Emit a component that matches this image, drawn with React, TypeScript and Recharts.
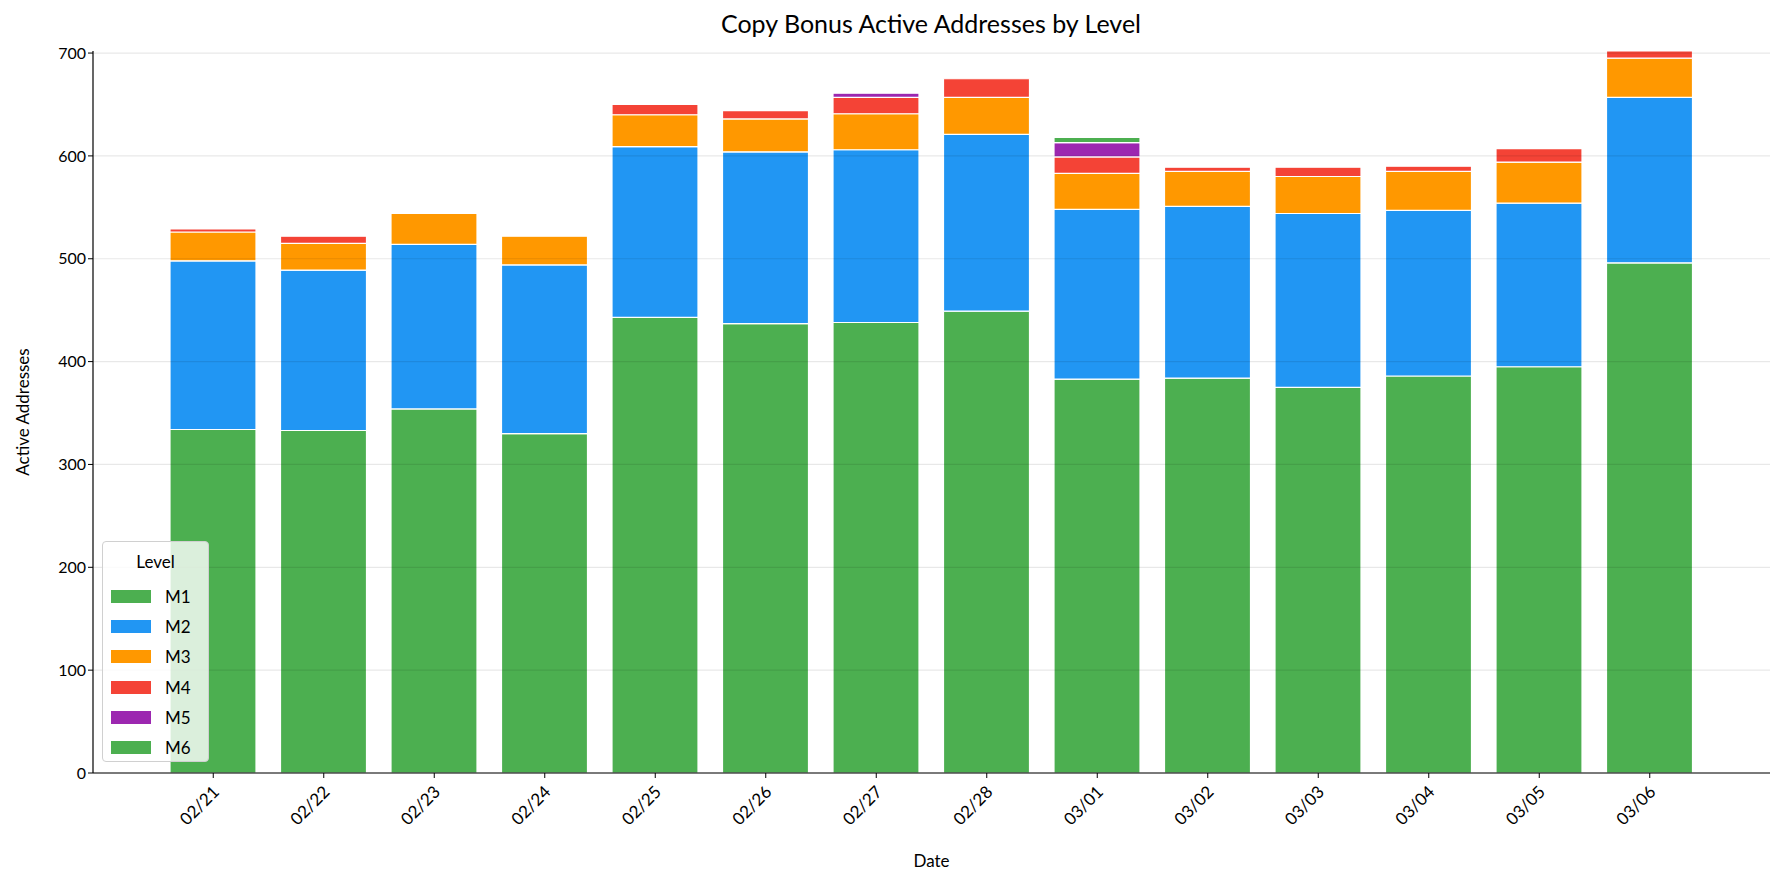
import { BarChart, Bar, XAxis, YAxis, ReferenceLine } from "recharts"

const dates = ["02/21", "02/22", "02/23", "02/24", "02/25", "02/26", "02/27", "02/28", "03/01", "03/02", "03/03", "03/04", "03/05", "03/06"]
const m1 = [334, 333, 354, 330, 443, 437, 438, 449, 383, 384, 375, 386, 395, 496]
const m2 = [164, 156, 160, 164, 166, 167, 168, 172, 165, 167, 169, 161, 159, 161]
const m3 = [28, 26, 30, 28, 31, 32, 35, 36, 35, 34, 36, 38, 40, 38]
const m4 = [3, 7, 0, 0, 10, 8, 16, 18, 16, 4, 9, 5, 13, 7]
const m5 = [0, 0, 0, 0, 0, 0, 4, 0, 14, 0, 0, 0, 0, 0]
const m6 = [0, 0, 0, 0, 0, 0, 0, 0, 5, 0, 0, 0, 0, 0]
const yTicks = [0, 100, 200, 300, 400, 500, 600, 700]

const LEVELS = [
  { key: "M1", color: "#4CAF50" },
  { key: "M2", color: "#2196F3" },
  { key: "M3", color: "#FF9800" },
  { key: "M4", color: "#F44336" },
  { key: "M5", color: "#9C27B0" },
  { key: "M6", color: "#4CAF50" },
]

const FONT = "Lato, 'DejaVu Sans', sans-serif"

const data = dates.map((d, i) => ({
  date: d,
  M1: m1[i],
  M2: m2[i],
  M3: m3[i],
  M4: m4[i],
  M5: m5[i],
  M6: m6[i],
}))

function DateTick({ x, y, payload }: any) {
  return (
    <text
      x={x + 7}
      y={y + 13}
      transform={`rotate(-45, ${x + 7}, ${y + 13})`}
      textAnchor="end"
      fontSize={17}
      fontFamily={FONT}
      fill="#000"
    >
      {payload.value}
    </text>
  )
}

// legend drawn as an overlay so it doesn't eat into the plot height
function LevelLegend() {
  return (
    <div
      style={{
        position: "absolute",
        left: 102,
        top: 541,
        width: 107,
        height: 221,
        background: "rgba(255,255,255,0.8)",
        border: "1px solid #d0d0d0",
        borderRadius: 4,
        fontFamily: FONT,
        fontSize: 17,
        boxSizing: "border-box",
      }}
    >
      <div style={{ textAlign: "center", paddingTop: 9, height: 30 }}>Level</div>
      {LEVELS.map((l) => (
        <div key={l.key} style={{ display: "flex", alignItems: "center", height: 30.3 }}>
          <span style={{ display: "inline-block", width: 40, height: 13, background: l.color, marginLeft: 8, marginRight: 14 }} />
          <span>{l.key}</span>
        </div>
      ))}
    </div>
  )
}

export default function App() {
  return (
    <div style={{ position: "absolute", left: 0, top: 0, width: 1785, height: 884, background: "#fff" }}>
      <div
        style={{
          position: "absolute",
          left: 0,
          width: 1862,
          top: 8,
          textAlign: "center",
          fontFamily: FONT,
          fontSize: 25,
          color: "#000",
        }}
      >
        Copy Bonus Active Addresses by Level
      </div>
      <BarChart
        width={1785}
        height={884}
        data={data}
        margin={{ top: 51, right: 15, left: 0, bottom: 0 }}
        barSize={86}
      >
        <XAxis
          dataKey="date"
          height={111}
          padding={{ left: 65, right: 65 }}
          tick={<DateTick />}
          tickLine={{ stroke: "#000" }}
          axisLine={{ stroke: "#000", strokeWidth: 1.2 }}
          tickSize={5}
          interval={0}
          label={{ value: "Date", position: "insideBottom", offset: 17, fontSize: 17, fontFamily: FONT, fill: "#000" }}
        />
        <YAxis
          width={93}
          domain={[0, 702]}
          ticks={yTicks}
          allowDataOverflow
          tick={{ fontSize: 16, fontFamily: FONT, fill: "#000" }}
          tickLine={{ stroke: "#000" }}
          axisLine={{ stroke: "#000", strokeWidth: 1.2 }}
          tickSize={5}
          label={{
            value: "Active Addresses",
            angle: -90,
            position: "insideLeft",
            offset: 23,
            fontSize: 17,
            fontFamily: FONT,
            fill: "#000",
            style: { textAnchor: "middle" },
          }}
        />
        {LEVELS.map((l) => (
          <Bar
            key={l.key}
            dataKey={l.key}
            name={l.key}
            stackId="lvl"
            fill={l.color}
            stroke="#fff"
            strokeWidth={1.2}
            isAnimationActive={false}
          />
        ))}
        {yTicks.map((t) => (
          <ReferenceLine key={t} y={t} stroke="#000" strokeOpacity={0.09} strokeWidth={1.2} />
        ))}
      </BarChart>
      <LevelLegend />
    </div>
  )
}
